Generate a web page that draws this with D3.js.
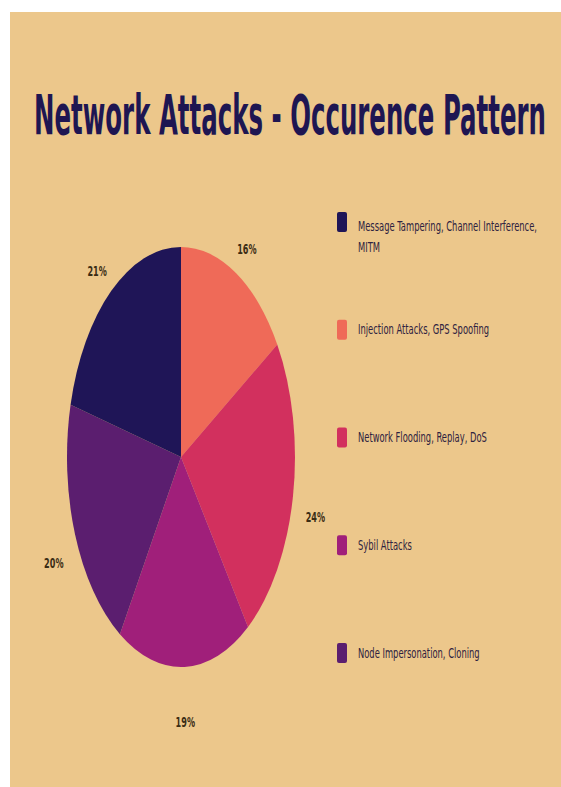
<!DOCTYPE html>
<html>
<head>
<meta charset="utf-8">
<script src="https://cdn.jsdelivr.net/npm/d3@7"></script>
<style>
  html, body { margin: 0; padding: 0; background: #fff; }
  svg { display: block; }
</style>
</head>
<body>
<div id="chart"></div>
<script>
const title = "Network Attacks - Occurence Pattern"
const categories = [
  "Message Tampering, Channel Interference, MITM",
  "Injection Attacks, GPS Spoofing",
  "Network Flooding, Replay, DoS",
  "Sybil Attacks",
  "Node Impersonation, Cloning"
]
const shares = [21, 16, 24, 19, 20]
const colors = ["#1f1557", "#ef6a58", "#d2305e", "#a01f7a", "#5b1e6f"]
// slice order around the pie, clockwise from 12 o'clock
const sliceOrder = [1, 2, 3, 4, 0]

const width = 561
const height = 787
const bg = "#ecc78b"

const svg = d3.select("#chart").append("svg")
    .attr("width", width)
    .attr("height", height)

svg.append("rect")
    .attr("x", 10).attr("y", 12)
    .attr("width", width - 10).attr("height", height - 12)
    .attr("fill", bg)

// Title (tall, condensed look)
svg.append("text")
    .attr("transform", "translate(34,134) scale(1,2)")
    .attr("font-family", "'DejaVu Sans Condensed', 'DejaVu Sans', sans-serif")
    .attr("font-weight", "bold")
    .attr("font-size", 28)
    .attr("textLength", 512)
    .attr("lengthAdjust", "spacingAndGlyphs")
    .attr("fill", "#1e1652")
    .text(title)

// Pie, drawn as a circle and stretched vertically
const cx = 181, cy = 457
const R = 114
const sy = 210 / 114

const pieData = sliceOrder.map(i => ({ i, value: shares[i] }))
const pie = d3.pie().sort(null).value(d => d.value)
const arcs = pie(pieData)
const arc = d3.arc().innerRadius(0).outerRadius(R)
const labelArc = d3.arc().innerRadius(R * 1.2).outerRadius(R * 1.2)

const gPie = svg.append("g")
    .attr("transform", `translate(${cx},${cy}) scale(1,${sy})`)

gPie.selectAll("path")
  .data(arcs)
  .join("path")
    .attr("d", arc)
    .attr("fill", d => colors[d.data.i])

svg.append("g")
  .selectAll("text")
  .data(arcs)
  .join("text")
    .attr("transform", d => {
      const [x, y] = labelArc.centroid(d)
      return `translate(${cx + x},${cy + y * sy + 14}) scale(1,1.5)`
    })
    .attr("text-anchor", "middle")
    .attr("dominant-baseline", "middle")
    .attr("font-family", "'DejaVu Sans Condensed', 'DejaVu Sans', sans-serif")
    .attr("font-weight", "bold")
    .attr("font-size", 9)
    .attr("fill", "#3a2c14")
    .text(d => d.data.value + "%")

// Legend
const ly = d3.scaleLinear().domain([0, categories.length - 1]).range([222, 653])

const legend = svg.append("g")
  .selectAll("g")
  .data(categories)
  .join("g")
    .attr("transform", (d, i) => `translate(337,${ly(i)})`)

legend.append("rect")
    .attr("x", 0).attr("y", -10)
    .attr("width", 10).attr("height", 20)
    .attr("rx", 2)
    .attr("fill", (d, i) => colors[i])

legend.each(function(d) {
  const g = d3.select(this)
  const t = g.append("text")
      .attr("transform", "translate(21,0) scale(1,1.5)")
      .attr("font-family", "'Liberation Sans Narrow', 'DejaVu Sans Condensed', sans-serif")
      .attr("font-size", 9.3)
      .attr("fill", "#2e2240")
      .attr("dominant-baseline", "middle")
  // wrap words into lines no wider than maxW
  const maxW = 192
  const words = d.split(" ")
  let line = []
  let lines = []
  let ts = t.append("tspan").attr("x", 0)
  words.forEach(w => {
    line.push(w)
    ts.text(line.join(" "))
    if (ts.node().getComputedTextLength() > maxW && line.length > 1) {
      line.pop()
      ts.text(line.join(" "))
      lines.push(ts)
      line = [w]
      ts = t.append("tspan").attr("x", 0).text(w)
    }
  })
  lines.push(ts)
  if (lines.length > 1) {
    lines.forEach((s, k) => s.attr("y", 3 + k * 14))
  } else {
    lines[0].attr("y", 0)
  }
})
</script>
</body>
</html>
